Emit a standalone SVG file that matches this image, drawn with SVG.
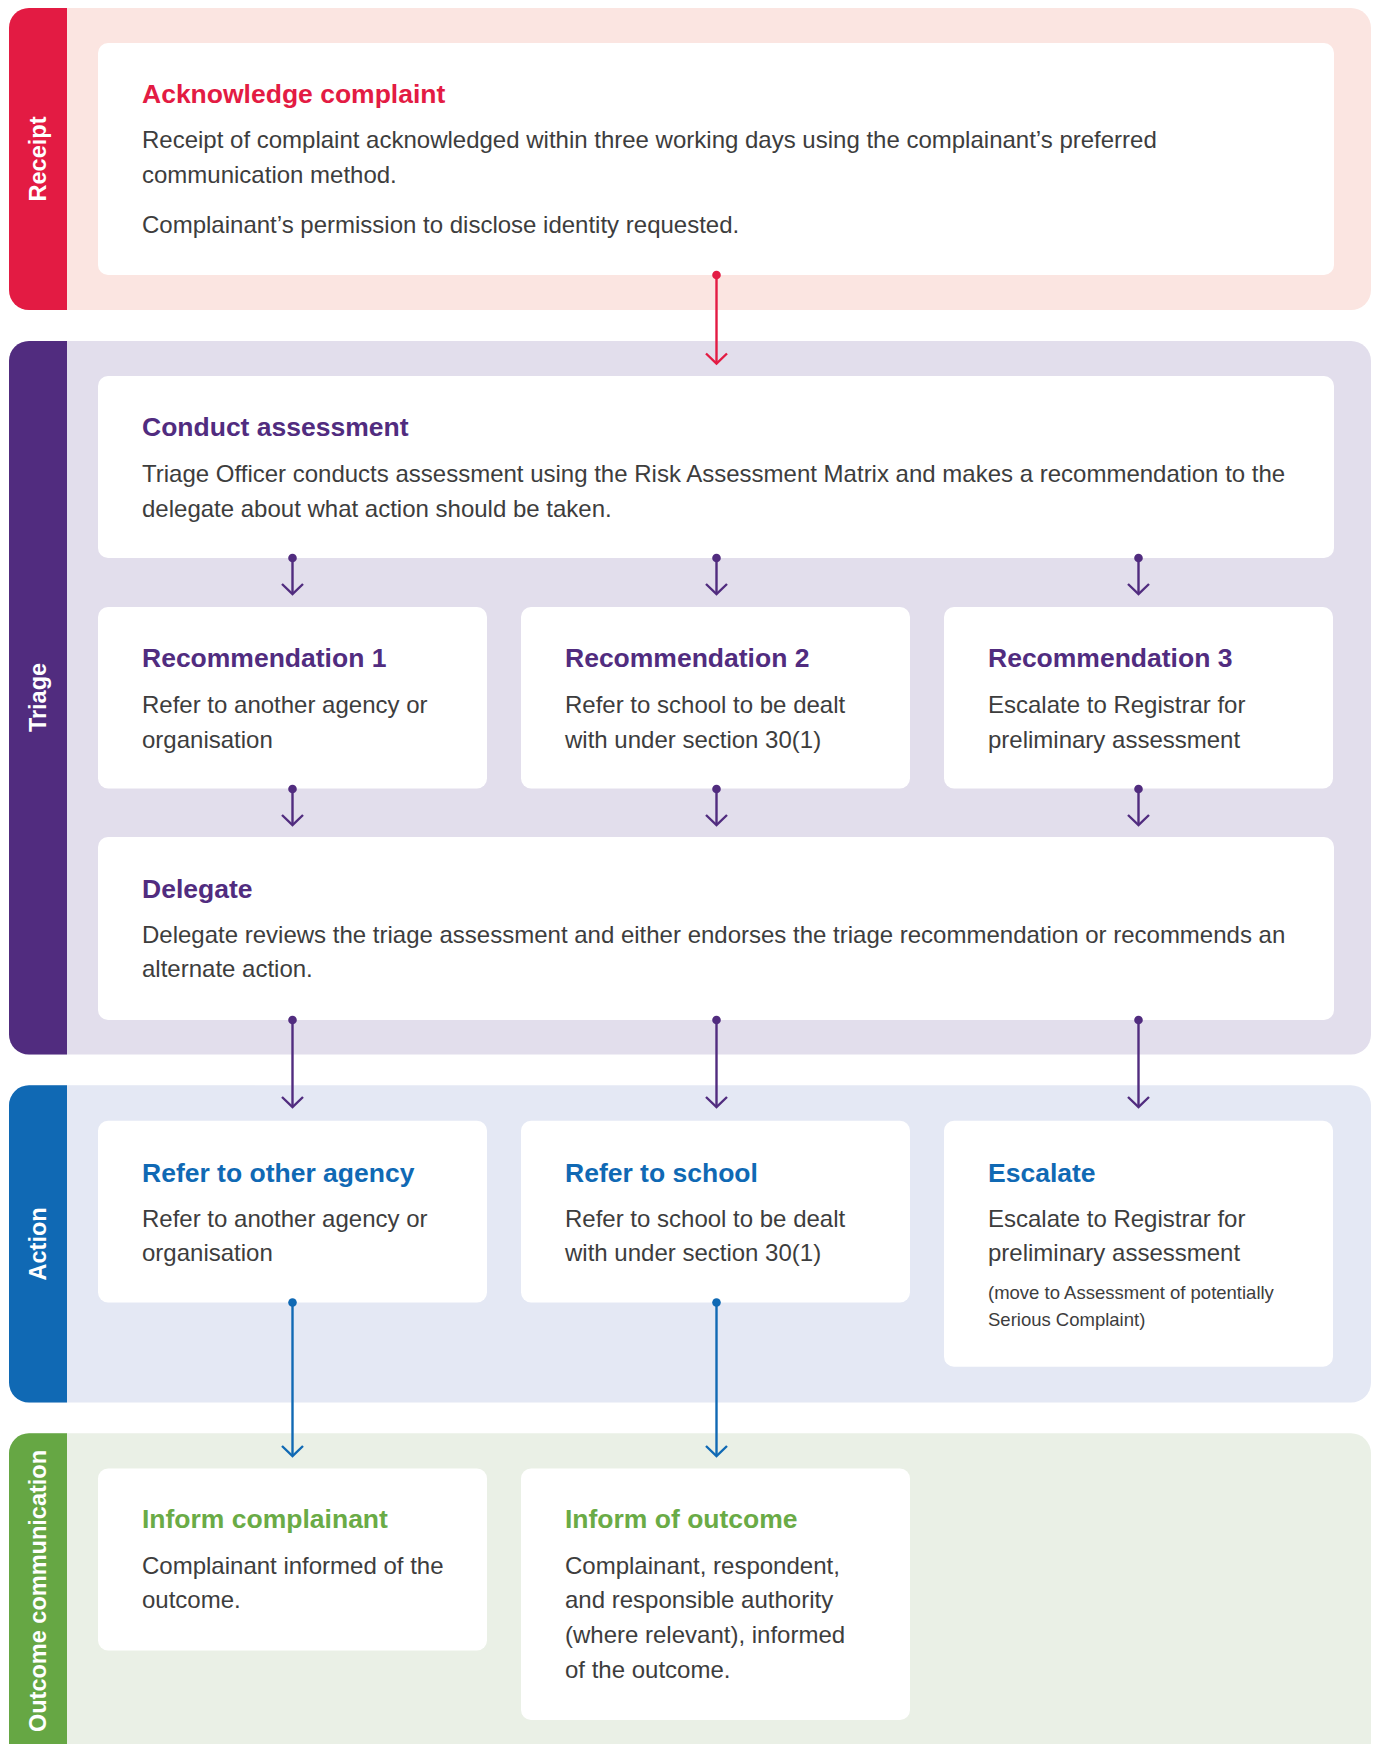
<svg xmlns="http://www.w3.org/2000/svg" width="1376" height="1744" viewBox="0 0 1376 1744">
<style>
text{font-family:"Liberation Sans",Arial,sans-serif}
.box{fill:#ffffff}
.lbl{font-size:23.5px;font-weight:bold;fill:#ffffff;text-anchor:middle}
.t{font-size:26.5px;font-weight:bold}
.b{font-size:24px;fill:#3d3d3d}
.s{font-size:18.5px;fill:#3d3d3d}
.red{fill:#e31b43}.pur{fill:#512c7f}.blu{fill:#1069b4}.grn{fill:#6aab46}
.cr{stroke:#e31b43}.cp{stroke:#512c7f}.cb{stroke:#1069b4}
.ln{fill:none;stroke-width:2.4}
</style>
<defs>
<marker id="hr" viewBox="-12 -12 24 14" markerWidth="24" markerHeight="14" refX="0" refY="0" markerUnits="userSpaceOnUse" overflow="visible"><path d="M-10.5,-10 L0,0 L10.5,-10" fill="none" stroke="#e31b43" stroke-width="2.4"/></marker>
<marker id="hp" viewBox="-12 -12 24 14" markerWidth="24" markerHeight="14" refX="0" refY="0" markerUnits="userSpaceOnUse" overflow="visible"><path d="M-10.5,-10 L0,0 L10.5,-10" fill="none" stroke="#512c7f" stroke-width="2.4"/></marker>
<marker id="hb" viewBox="-12 -12 24 14" markerWidth="24" markerHeight="14" refX="0" refY="0" markerUnits="userSpaceOnUse" overflow="visible"><path d="M-10.5,-10 L0,0 L10.5,-10" fill="none" stroke="#1069b4" stroke-width="2.4"/></marker>
</defs>

<!-- Lanes -->
<g id="lane-receipt">
<rect x="9" y="8" width="1362" height="302" rx="20" fill="#fbe5e1"/>
<path d="M67,8 V310 H29 A20,20 0 0 1 9,290 V28 A20,20 0 0 1 29,8 Z" fill="#e31b43"/>
<text class="lbl" transform="translate(46,159) rotate(-90)">Receipt</text>
</g>
<g id="lane-triage">
<rect x="9" y="341" width="1362" height="713.5" rx="20" fill="#e2deec"/>
<path d="M67,341 V1054.5 H29 A20,20 0 0 1 9,1034.5 V361 A20,20 0 0 1 29,341 Z" fill="#512c7f"/>
<text class="lbl" transform="translate(46,697.5) rotate(-90)">Triage</text>
</g>
<g id="lane-action">
<rect x="9" y="1085.3" width="1362" height="317.2" rx="20" fill="#e4e8f4"/>
<path d="M67,1085.3 V1402.5 H29 A20,20 0 0 1 9,1382.5 V1105.3 A20,20 0 0 1 29,1085.3 Z" fill="#1069b4"/>
<text class="lbl" transform="translate(46,1243.9) rotate(-90)">Action</text>
</g>
<g id="lane-outcome">
<rect x="9" y="1433.3" width="1362" height="340" rx="20" fill="#eaf0e6"/>
<path d="M67,1433.3 V1780 H9 V1453.3 A20,20 0 0 1 29,1433.3 Z" fill="#66a744"/>
<text class="lbl" transform="translate(46,1591) rotate(-90)">Outcome communication</text>
</g>

<!-- Nodes -->
<g id="acknowledge">
<rect class="box" x="98" y="43" width="1236" height="232" rx="10"/>
<text class="t red" x="142" y="103.3">Acknowledge complaint</text>
<text class="b" x="142" y="148.3">Receipt of complaint acknowledged within three working days using the complainant’s preferred</text>
<text class="b" x="142" y="183.3">communication method.</text>
<text class="b" x="142" y="233.3">Complainant’s permission to disclose identity requested.</text>
</g>
<g id="conduct">
<rect class="box" x="98" y="376" width="1236" height="182" rx="10"/>
<text class="t pur" x="142" y="436">Conduct assessment</text>
<text class="b" x="142" y="481.7">Triage Officer conducts assessment using the Risk Assessment Matrix and makes a recommendation to the</text>
<text class="b" x="142" y="516.7">delegate about what action should be taken.</text>
</g>
<g id="rec1">
<rect class="box" x="98" y="607" width="389" height="181.5" rx="10"/>
<text class="t pur" x="142" y="666.7">Recommendation 1</text>
<text class="b" x="142" y="712.7">Refer to another agency or</text>
<text class="b" x="142" y="747.7">organisation</text>
</g>
<g id="rec2">
<rect class="box" x="521" y="607" width="389" height="181.5" rx="10"/>
<text class="t pur" x="565" y="666.7">Recommendation 2</text>
<text class="b" x="565" y="712.7">Refer to school to be dealt</text>
<text class="b" x="565" y="747.7">with under section 30(1)</text>
</g>
<g id="rec3">
<rect class="box" x="944" y="607" width="389" height="181.5" rx="10"/>
<text class="t pur" x="988" y="666.7">Recommendation 3</text>
<text class="b" x="988" y="712.7">Escalate to Registrar for</text>
<text class="b" x="988" y="747.7">preliminary assessment</text>
</g>
<g id="delegate">
<rect class="box" x="98" y="837" width="1236" height="183" rx="10"/>
<text class="t pur" x="142" y="898.3">Delegate</text>
<text class="b" x="142" y="943.3">Delegate reviews the triage assessment and either endorses the triage recommendation or recommends an</text>
<text class="b" x="142" y="977.3">alternate action.</text>
</g>
<g id="refer-agency">
<rect class="box" x="98" y="1120.7" width="389" height="181.8" rx="10"/>
<text class="t blu" x="142" y="1181.5">Refer to other agency</text>
<text class="b" x="142" y="1227">Refer to another agency or</text>
<text class="b" x="142" y="1261">organisation</text>
</g>
<g id="refer-school">
<rect class="box" x="521" y="1120.7" width="389" height="181.8" rx="10"/>
<text class="t blu" x="565" y="1181.5">Refer to school</text>
<text class="b" x="565" y="1227">Refer to school to be dealt</text>
<text class="b" x="565" y="1261">with under section 30(1)</text>
</g>
<g id="escalate">
<rect class="box" x="944" y="1120.7" width="389" height="246" rx="10"/>
<text class="t blu" x="988" y="1181.5">Escalate</text>
<text class="b" x="988" y="1227">Escalate to Registrar for</text>
<text class="b" x="988" y="1261">preliminary assessment</text>
<text class="s" x="988" y="1299.3">(move to Assessment of potentially</text>
<text class="s" x="988" y="1326">Serious Complaint)</text>
</g>
<g id="inform-complainant">
<rect class="box" x="98" y="1468.5" width="389" height="182" rx="10"/>
<text class="t grn" x="142" y="1528.3">Inform complainant</text>
<text class="b" x="142" y="1574">Complainant informed of the</text>
<text class="b" x="142" y="1608.3">outcome.</text>
</g>
<g id="inform-outcome">
<rect class="box" x="521" y="1468.5" width="389" height="251.5" rx="10"/>
<text class="t grn" x="565" y="1528.3">Inform of outcome</text>
<text class="b" x="565" y="1574">Complainant, respondent,</text>
<text class="b" x="565" y="1608.3">and responsible authority</text>
<text class="b" x="565" y="1643">(where relevant), informed</text>
<text class="b" x="565" y="1677.7">of the outcome.</text>
</g>

<!-- Connectors -->
<g id="connectors">
<line class="ln cr" x1="716.5" y1="275" x2="716.5" y2="363.5" marker-end="url(#hr)"/>
<circle cx="716.5" cy="275" r="4.3" fill="#e31b43"/>

<line class="ln cp" x1="292.5" y1="558" x2="292.5" y2="594" marker-end="url(#hp)"/>
<line class="ln cp" x1="716.5" y1="558" x2="716.5" y2="594" marker-end="url(#hp)"/>
<line class="ln cp" x1="1138.5" y1="558" x2="1138.5" y2="594" marker-end="url(#hp)"/>
<circle cx="292.5" cy="558" r="4.3" fill="#512c7f"/>
<circle cx="716.5" cy="558" r="4.3" fill="#512c7f"/>
<circle cx="1138.5" cy="558" r="4.3" fill="#512c7f"/>

<line class="ln cp" x1="292.5" y1="789" x2="292.5" y2="825" marker-end="url(#hp)"/>
<line class="ln cp" x1="716.5" y1="789" x2="716.5" y2="825" marker-end="url(#hp)"/>
<line class="ln cp" x1="1138.5" y1="789" x2="1138.5" y2="825" marker-end="url(#hp)"/>
<circle cx="292.5" cy="789" r="4.3" fill="#512c7f"/>
<circle cx="716.5" cy="789" r="4.3" fill="#512c7f"/>
<circle cx="1138.5" cy="789" r="4.3" fill="#512c7f"/>

<line class="ln cp" x1="292.5" y1="1020" x2="292.5" y2="1107" marker-end="url(#hp)"/>
<line class="ln cp" x1="716.5" y1="1020" x2="716.5" y2="1107" marker-end="url(#hp)"/>
<line class="ln cp" x1="1138.5" y1="1020" x2="1138.5" y2="1107" marker-end="url(#hp)"/>
<circle cx="292.5" cy="1020" r="4.3" fill="#512c7f"/>
<circle cx="716.5" cy="1020" r="4.3" fill="#512c7f"/>
<circle cx="1138.5" cy="1020" r="4.3" fill="#512c7f"/>

<line class="ln cb" x1="292.5" y1="1302.5" x2="292.5" y2="1456" marker-end="url(#hb)"/>
<line class="ln cb" x1="716.5" y1="1302.5" x2="716.5" y2="1456" marker-end="url(#hb)"/>
<circle cx="292.5" cy="1302.5" r="4.3" fill="#1069b4"/>
<circle cx="716.5" cy="1302.5" r="4.3" fill="#1069b4"/>
</g>
</svg>
